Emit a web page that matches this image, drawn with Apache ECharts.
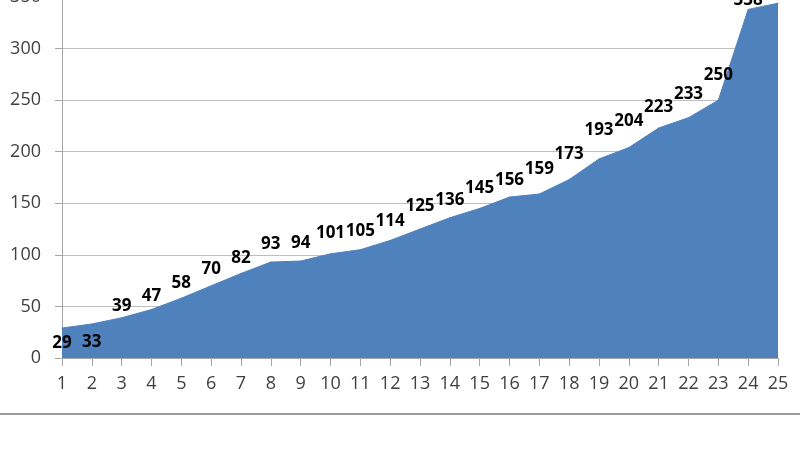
<!DOCTYPE html>
<html><head><meta charset="utf-8">
<script src="https://cdn.jsdelivr.net/npm/echarts@6/dist/echarts.min.js"></script>
<style>html,body{margin:0;padding:0;background:#fff}#c{width:800px;height:450px}</style>
</head><body><div id="c"></div>
<script>
const categories = ['1','2','3','4','5','6','7','8','9','10','11','12','13','14','15','16','17','18','19','20','21','22','23','24','25'];
const values = [29,33,39,47,58,70,82,93,94,101,105,114,125,136,145,156,159,173,193,204,223,233,250,338,344];
// label placement (not data): labels of the first two points sit below the line
const belowLabels = ['1','2'];
const labelGap = [6.5,9.5,2.5,4,6.5,7.5,6.5,8.5,9,11.5,9.5,10.5,13.5,9,11.5,7.5,15.5,16.5,19.5,17.5,11.5,14.5,15.5,0.5,5];

const chart = echarts.init(document.getElementById('c'));
const data = values.map((v, i) => ({
  value: v,
  label: {
    position: belowLabels.includes(categories[i]) ? 'bottom' : 'top',
    distance: labelGap[i]
  }
}));
chart.setOption({
  animation: false,
  grid: { left: 62, right: 22, top: -3, bottom: 92, outerBoundsMode: 'none', containLabel: false },
  xAxis: {
    type: 'category', data: categories, boundaryGap: false,
    axisLine: { lineStyle: { color: '#a6a6a6', width: 1 } },
    axisTick: { show: true, length: 8, lineStyle: { color: '#a6a6a6' } },
    axisLabel: { color: '#404040', fontSize: 18, margin: 17, fontFamily: 'Open Sans' }
  },
  yAxis: {
    type: 'value', min: 0, max: 350, interval: 50,
    axisLine: { show: true, lineStyle: { color: '#a6a6a6' } },
    axisTick: { show: true, length: 7, lineStyle: { color: '#a6a6a6' } },
    axisLabel: { color: '#404040', fontSize: 18, margin: 21, fontFamily: 'Open Sans' },
    splitLine: { lineStyle: { color: '#bfbfbf', width: 1 } }
  },
  series: [{
    type: 'line', data: data, symbol: 'circle', symbolSize: 1, showSymbol: true, showAllSymbol: true, smooth: false,
    lineStyle: { width: 1, color: '#4f81bd' },
    areaStyle: { color: '#4f81bd', opacity: 1 },
    itemStyle: { color: '#4f81bd' },
    label: { show: true, position: 'top', color: '#000', fontWeight: 'bold', fontSize: 17, fontFamily: 'Open Sans' },
    labelLayout: { hideOverlap: false }
  }],
  graphic: [{
    type: 'line', shape: { x1: 0, y1: 414, x2: 800, y2: 414 },
    style: { stroke: '#9a9a9a', lineWidth: 2 }
  }]
});
</script></body></html>
